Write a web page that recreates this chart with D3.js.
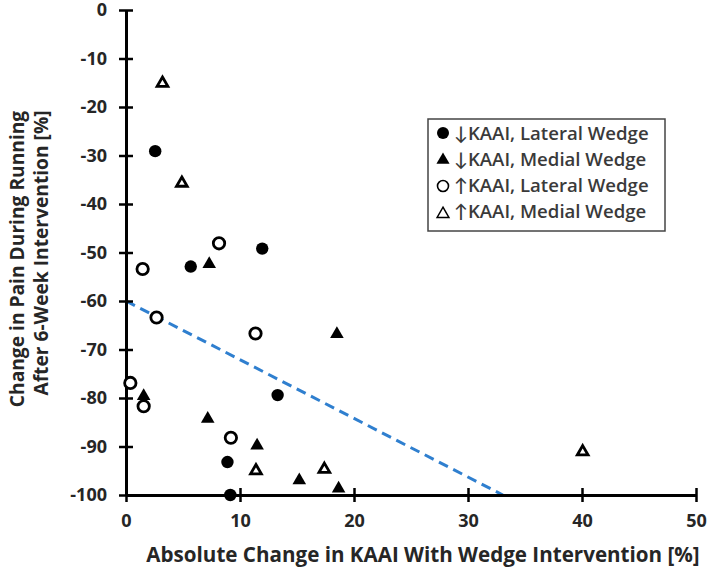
<!DOCTYPE html>
<html><head><meta charset="utf-8">
<script src="https://cdn.jsdelivr.net/npm/d3@7"></script>
<style>
html,body{margin:0;padding:0;background:#fff;}
svg text{font-family:"Open Sans",Lato,sans-serif;}
</style></head>
<body>
<svg id="chart" width="710" height="575"></svg>
<script>
// ---- data ----
const xTicks = [0,10,20,30,40,50];
const yTicks = [0,-10,-20,-30,-40,-50,-60,-70,-80,-90,-100];
const seriesNames = ["↓KAAI, Lateral Wedge","↓KAAI, Medial Wedge","↑KAAI, Lateral Wedge","↑KAAI, Medial Wedge"];
const decLateral = [[2.56,-29.1],[11.95,-49.2],[5.68,-52.9],[13.3,-79.4],[8.9,-93.2],[9.15,-100]];
const decMedial  = [[7.3,-52.4],[18.5,-66.8],[1.55,-79.6],[7.17,-84.3],[11.5,-89.8],[15.2,-97.0],[18.65,-98.7]];
const incLateral = [[8.16,-48.1],[1.46,-53.4],[2.68,-63.4],[11.36,-66.7],[0.38,-76.9],[1.55,-81.7],[9.2,-88.2]];
const incMedial  = [[3.2,-15.1],[4.9,-35.7],[40.06,-91.1],[11.4,-95.0],[17.4,-94.7]];
const trendIntercept = -60;
const trendSlope = -1.21;

const svg = d3.select("#chart");
const x = d3.scaleLinear().domain([0,50]).range([126,696]);
const y = d3.scaleLinear().domain([-100,0]).range([495,10]);
const textColor = "#262626";

// trend line
const xEnd = (-100 - trendIntercept)/trendSlope;
svg.append("line")
  .attr("x1",x(0)).attr("y1",y(trendIntercept))
  .attr("x2",x(xEnd)).attr("y2",y(-100))
  .attr("stroke","#2f7fcf").attr("stroke-width",3).attr("stroke-dasharray","10,6");

// axes
const fmt = d => String(d);
const yAxis = svg.append("g").attr("transform",`translate(${x(0)},0)`)
  .call(d3.axisLeft(y).tickValues(yTicks).tickFormat(fmt).tickSize(0).tickPadding(19));
yAxis.select(".domain").attr("stroke","#000").attr("stroke-width",3);
yAxis.selectAll(".tick").append("line").attr("x1",-7).attr("x2",7).attr("stroke","#000").attr("stroke-width",2.5);
yAxis.selectAll("text").attr("font-size",18).attr("font-weight","bold").attr("fill",textColor);

const xAxis = svg.append("g").attr("transform",`translate(0,${y(-100)})`)
  .call(d3.axisBottom(x).tickValues(xTicks).tickFormat(fmt).tickSize(0).tickPadding(19));
xAxis.select(".domain").attr("stroke","#000").attr("stroke-width",3);
xAxis.selectAll(".tick").append("line").attr("y1",-7).attr("y2",7).attr("stroke","#000").attr("stroke-width",2.5);
xAxis.selectAll("text").attr("font-size",18).attr("font-weight","bold").attr("fill",textColor);

// axis titles
svg.append("text").attr("x",423).attr("y",562).attr("text-anchor","middle")
  .attr("font-size",20.6).attr("font-weight","bold").attr("fill",textColor)
  .text("Absolute Change in KAAI With Wedge Intervention [%]");
const yt = svg.append("text")
  .attr("font-size",19.2).attr("font-weight","bold").attr("fill",textColor).attr("text-anchor","middle");
yt.append("tspan").attr("x",-259).attr("y",24).text("Change in Pain During Running");
yt.append("tspan").attr("x",-253).attr("y",48).text("After 6-Week Intervention [%]");
yt.attr("transform","rotate(-90)");

// markers
function drawSeries(data, type){
  const g = svg.append("g");
  if(type==="fc"){
    g.selectAll("circle").data(data).join("circle")
      .attr("cx",d=>x(d[0])).attr("cy",d=>y(d[1])).attr("r",6.2).attr("fill","#000");
  } else if(type==="oc"){
    g.selectAll("circle").data(data).join("circle")
      .attr("cx",d=>x(d[0])).attr("cy",d=>y(d[1])).attr("r",5.7)
      .attr("fill","#fff").attr("stroke","#000").attr("stroke-width",2.8);
  } else if(type==="ft"){
    g.selectAll("path").data(data).join("path")
      .attr("d",d3.symbol(d3.symbolTriangle,80))
      .attr("transform",d=>`translate(${x(d[0])},${y(d[1])})`).attr("fill","#000");
  } else {
    g.selectAll("path").data(data).join("path")
      .attr("d",d3.symbol(d3.symbolTriangle,50))
      .attr("transform",d=>`translate(${x(d[0])},${y(d[1])})`)
      .attr("fill","#fff").attr("stroke","#000").attr("stroke-width",2.8).attr("stroke-linejoin","miter");
  }
}
drawSeries(decLateral,"fc");
drawSeries(decMedial,"ft");
drawSeries(incLateral,"oc");
drawSeries(incMedial,"ot");

// legend
const lg = svg.append("g");
lg.append("rect").attr("x",428).attr("y",119).attr("width",237).attr("height",112)
  .attr("fill","#fff").attr("stroke","#444").attr("stroke-width",1.5);
const types = ["fc","ft","oc","ot"];
seriesNames.forEach((name,i)=>{
  const cy = 133 + i*26;
  const t = types[i];
  if(t==="fc") lg.append("circle").attr("cx",443).attr("cy",cy).attr("r",6).attr("fill","#000");
  else if(t==="oc") lg.append("circle").attr("cx",443).attr("cy",cy+1).attr("r",5.5).attr("fill","#fff").attr("stroke","#000").attr("stroke-width",1.6);
  else if(t==="ft") lg.append("path").attr("d",d3.symbol(d3.symbolTriangle,75)).attr("transform",`translate(443,${cy+1})`).attr("fill","#000");
  else lg.append("path").attr("d",d3.symbol(d3.symbolTriangle,60)).attr("transform",`translate(443,${cy+3})`).attr("fill","#fff").attr("stroke","#000").attr("stroke-width",1.5);
  lg.append("text").attr("x",454).attr("y",cy+6.5).attr("font-size",18.6).attr("font-weight",600).attr("fill","#3a3a3a").text(name);
});
</script>
</body></html>
